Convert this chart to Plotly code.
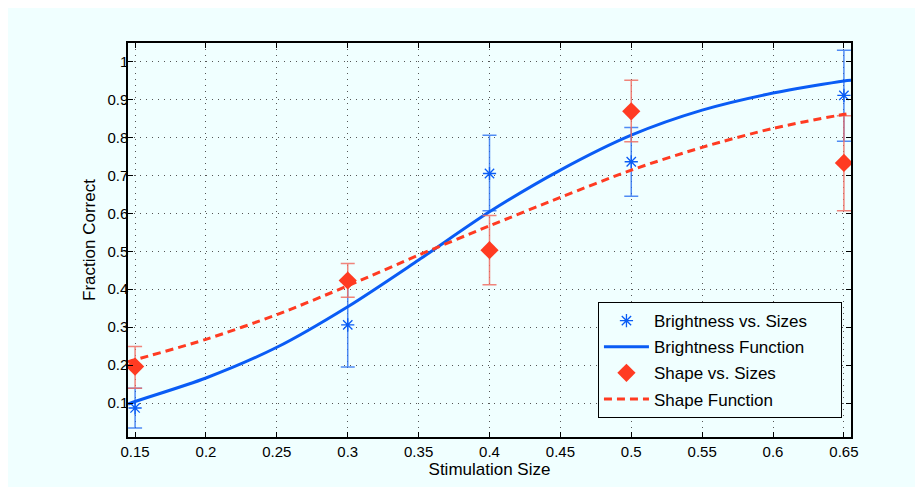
import plotly.graph_objects as go

# Measured data
sizes = [0.15, 0.3, 0.4, 0.5, 0.65]
bright_vals = [0.087, 0.306, 0.705, 0.736, 0.911]
bright_hi = [0.139, 0.420, 0.806, 0.826, 1.030]
bright_lo = [0.034, 0.195, 0.607, 0.645, 0.790]
shape_vals = [0.196, 0.423, 0.503, 0.869, 0.733]
shape_hi = [0.249, 0.468, 0.594, 0.951, 0.857]
shape_lo = [0.139, 0.379, 0.412, 0.789, 0.607]

# Fitted curves
curve_x = [0.145, 0.15, 0.2, 0.25, 0.3, 0.35, 0.4, 0.45, 0.5, 0.55, 0.6, 0.65, 0.655]
bright_curve = [0.097, 0.104, 0.166, 0.247, 0.354, 0.477, 0.604, 0.714, 0.806, 0.872, 0.917, 0.949, 0.951]
shape_curve = [0.209, 0.214, 0.268, 0.333, 0.409, 0.490, 0.567, 0.642, 0.714, 0.774, 0.824, 0.861, 0.864]

x_ticks = [0.15, 0.2, 0.25, 0.3, 0.35, 0.4, 0.45, 0.5, 0.55, 0.6, 0.65]
x_labels = ["0.15", "0.2", "0.25", "0.3", "0.35", "0.4", "0.45", "0.5", "0.55", "0.6", "0.65"]
y_ticks = [0.1, 0.2, 0.3, 0.4, 0.5, 0.6, 0.7, 0.8, 0.9, 1.0]
y_labels = ["0.1", "0.2", "0.3", "0.4", "0.5", "0.6", "0.7", "0.8", "0.9", "1"]

BLUE = "#0a5cf5"
RED = "#ff3b22"
PAD = "\u00a0" * 6

fig = go.Figure()

fig.add_trace(go.Scatter(
    x=sizes, y=bright_vals, mode="markers", name="Brightness vs. Sizes" + PAD,
    legendgroup="a",
    marker=dict(symbol="asterisk-open", size=11, color=BLUE, line=dict(color=BLUE, width=1.3)),
    error_y=dict(type="data", symmetric=False,
                 array=[h - v for h, v in zip(bright_hi, bright_vals)],
                 arrayminus=[v - l for v, l in zip(bright_vals, bright_lo)],
                 color="rgba(40,110,240,0.8)", thickness=1.5, width=7),
))
fig.add_trace(go.Scatter(
    x=curve_x, y=bright_curve, mode="lines", name="Brightness Function",
    legendgroup="b",
    line=dict(color=BLUE, width=3, shape="spline", smoothing=0.8),
))
fig.add_trace(go.Scatter(
    x=sizes, y=shape_vals, mode="markers", name="Shape vs. Sizes",
    legendgroup="c",
    marker=dict(symbol="diamond", size=14, color=RED),
    error_y=dict(type="data", symmetric=False,
                 array=[h - v for h, v in zip(shape_hi, shape_vals)],
                 arrayminus=[v - l for v, l in zip(shape_vals, shape_lo)],
                 color="rgba(240,110,100,0.85)", thickness=1.5, width=7),
))
fig.add_trace(go.Scatter(
    x=curve_x, y=shape_curve, mode="lines", name="Shape Function",
    legendgroup="d",
    line=dict(color=RED, width=3, dash="8px,5px", shape="spline", smoothing=0.8),
))

axis_common = dict(
    showline=True, linecolor="black", linewidth=1.5, mirror="ticks",
    ticks="inside", ticklen=5, tickcolor="black", tickwidth=1,
    showgrid=True, gridcolor="#555555", griddash="1px,5px", gridwidth=1,
    zeroline=False, tickfont=dict(size=15, color="black"),
)

fig.update_xaxes(range=[0.145, 0.655], tickvals=x_ticks, ticktext=x_labels,
                 title=dict(text="Stimulation Size", font=dict(size=17, color="black"), standoff=1),
                 **axis_common)
fig.update_yaxes(range=[0.0105, 1.049], tickvals=y_ticks, ticktext=y_labels,
                 ticklabelstandoff=-5,
                 title=dict(text="Fraction Correct", font=dict(size=17, color="black"), standoff=7),
                 **axis_common)

fig.update_layout(
    width=923, height=487,
    margin=dict(l=120, r=80, t=35, b=58),
    paper_bgcolor="#f0ffff", plot_bgcolor="#f0ffff",
    font=dict(family="Liberation Sans, Arial, sans-serif", color="black"),
    showlegend=True,
    legend=dict(x=0.650, y=0.048, xanchor="left", yanchor="bottom",
                bgcolor="#f0ffff", bordercolor="black", borderwidth=1,
                font=dict(size=17, color="black"), tracegroupgap=1,
                itemwidth=45, traceorder="grouped"),
)

fig.write_html("out.html")
